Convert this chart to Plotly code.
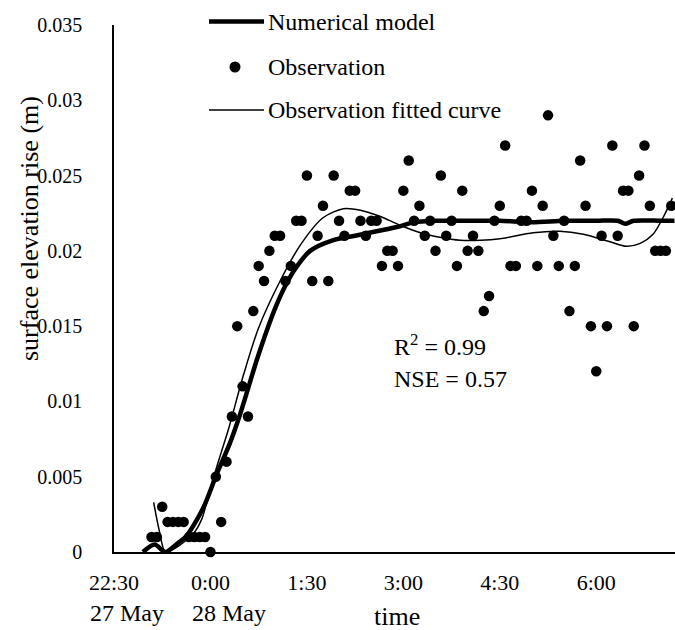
import plotly.graph_objects as go

# ---- observations, sampled every 5 minutes (clock time, metres) ----
obs_time = [
    "23:05", "23:10", "23:15", "23:20", "23:25", "23:30", "23:35", "23:40", "23:45", "23:50", "23:55",
    "0:00", "0:05", "0:10", "0:15", "0:20", "0:25", "0:30", "0:35", "0:40", "0:45", "0:50", "0:55",
    "1:00", "1:05", "1:10", "1:15", "1:20", "1:25", "1:30", "1:35", "1:40", "1:45", "1:50", "1:55",
    "2:00", "2:05", "2:10", "2:15", "2:20", "2:25", "2:30", "2:35", "2:40", "2:45", "2:50", "2:55",
    "3:00", "3:05", "3:10", "3:15", "3:20", "3:25", "3:30", "3:35", "3:40", "3:45", "3:50", "3:55",
    "4:00", "4:05", "4:10", "4:15", "4:20", "4:25", "4:30", "4:35", "4:40", "4:45", "4:50", "4:55",
    "5:00", "5:05", "5:10", "5:15", "5:20", "5:25", "5:30", "5:35", "5:40", "5:45", "5:50", "5:55",
    "6:00", "6:05", "6:10", "6:15", "6:20", "6:25", "6:30", "6:35", "6:40", "6:45", "6:50", "6:55",
    "7:00", "7:05", "7:10",
]
obs_value = [
    0.001, 0.001, 0.003, 0.002, 0.002, 0.002, 0.002, 0.001, 0.001, 0.001, 0.001,
    0.000, 0.005, 0.002, 0.006, 0.009, 0.015, 0.011, 0.009, 0.016, 0.019, 0.018, 0.020,
    0.021, 0.021, 0.018, 0.019, 0.022, 0.022, 0.025, 0.018, 0.021, 0.023, 0.018, 0.025,
    0.022, 0.021, 0.024, 0.024, 0.022, 0.021, 0.022, 0.022, 0.019, 0.020, 0.020, 0.019,
    0.024, 0.026, 0.022, 0.023, 0.021, 0.022, 0.020, 0.025, 0.021, 0.022, 0.019, 0.024,
    0.020, 0.021, 0.020, 0.016, 0.017, 0.022, 0.023, 0.027, 0.019, 0.019, 0.022, 0.022,
    0.024, 0.019, 0.023, 0.029, 0.021, 0.019, 0.022, 0.016, 0.019, 0.026, 0.023, 0.015,
    0.012, 0.021, 0.015, 0.027, 0.021, 0.024, 0.024, 0.015, 0.025, 0.027, 0.023, 0.020,
    0.020, 0.020, 0.023,
]

# ---- numerical model ----
model_time = [
    "22:57", "23:08", "23:18", "23:28", "23:38", "23:47", "23:55", "0:06", "0:18", "0:27",
    "0:34", "0:43", "0:52", "1:01", "1:10", "1:19", "1:33", "1:54", "2:15", "2:35",
    "2:55", "3:10", "3:30", "4:00", "4:30", "5:00", "5:30", "6:00", "6:20", "6:27",
    "6:35", "7:00", "7:13",
]
model_value = [
    0.0000, 0.0005, 0.0000, 0.0005, 0.0011, 0.0021, 0.0032, 0.0052, 0.0072, 0.0090,
    0.0106, 0.0127, 0.0146, 0.0163, 0.0177, 0.0188, 0.0200, 0.0207, 0.0210, 0.0213,
    0.0216, 0.0219, 0.0220, 0.0220, 0.0220, 0.0219, 0.0220, 0.0220, 0.0220, 0.0218,
    0.0220, 0.0220, 0.0220,
]

# ---- curve fitted to the observations ----
fit_time = [
    "23:07", "23:12", "23:18", "23:28", "23:36", "23:45", "23:52", "0:01", "0:10", "0:17",
    "0:31", "0:45", "1:05", "1:24", "1:45", "2:04", "2:20", "2:38", "2:57", "3:16",
    "3:34", "3:53", "4:12", "4:30", "5:01", "5:26", "5:48", "6:13", "6:28", "6:41",
    "6:53", "7:03", "7:11",
]
fit_value = [
    0.0033, 0.0015, 0.0000, 0.0003, 0.0007, 0.0013, 0.0022, 0.0045, 0.0066, 0.0082,
    0.0118, 0.0149, 0.0180, 0.0204, 0.0222, 0.0228, 0.0227, 0.0223, 0.0217, 0.0212,
    0.0209, 0.0207, 0.0207, 0.0208, 0.0212, 0.0213, 0.0211, 0.0206, 0.0203, 0.0205,
    0.0211, 0.0223, 0.0235,
]

# axis ticks
tick_clock = ["22:30", "0:00", "1:30", "3:00", "4:30", "6:00"]
y_ticks = [0, 0.005, 0.01, 0.015, 0.02, 0.025, 0.03, 0.035]
y_tick_text = ["0", "0.005", "0.01", "0.015", "0.02", "0.025", "0.03", "0.035"]

START = 22.5  # 22:30 on 27 May


def hours(clock):
    """Hours elapsed since 22:30 on 27 May."""
    h, m = (int(p) for p in clock.split(":"))
    t = h + m / 60.0
    if t < 12:
        t += 24
    return t - START


FONT = "Liberation Serif"

fig = go.Figure()
fig.add_trace(go.Scatter(
    x=[hours(t) for t in obs_time], y=obs_value, mode="markers",
    marker=dict(color="black", size=10.5), cliponaxis=False, name="Observation",
))
fig.add_trace(go.Scatter(
    x=[hours(t) for t in model_time], y=model_value, mode="lines",
    line=dict(color="black", width=4.5, shape="spline", smoothing=0.8),
    name="Numerical model",
))
fig.add_trace(go.Scatter(
    x=[hours(t) for t in fit_time], y=fit_value, mode="lines",
    line=dict(color="black", width=1.5, shape="spline", smoothing=0.8),
    name="Observation fitted curve",
))

# plot area: x 114..675 px, y 25..552 px
PL, PR, PT, PB = 114, 675, 25, 552
W, H = PR - PL, PB - PT


def px(x):
    return (x - PL) / W


def py(y):
    return (PB - y) / H


# legend drawn in paper space
fig.add_shape(type="line", xref="paper", yref="paper",
              x0=px(209), x1=px(264), y0=py(21.5), y1=py(21.5),
              line=dict(color="black", width=4.5))
fig.add_shape(type="circle", xref="paper", yref="paper",
              x0=px(229.5), x1=px(240.5), y0=py(61.5), y1=py(72.5),
              fillcolor="black", line=dict(color="black", width=0))
fig.add_shape(type="line", xref="paper", yref="paper",
              x0=px(209), x1=px(264), y0=py(110), y1=py(110),
              line=dict(color="black", width=1.5))
for label, yy in [("Numerical model", 21.5), ("Observation", 67), ("Observation fitted curve", 110)]:
    fig.add_annotation(xref="paper", yref="paper", x=px(266), y=py(yy),
                       xanchor="left", yanchor="middle", showarrow=False,
                       text=label, font=dict(family=FONT, size=24, color="black"))

# goodness-of-fit statistics
fig.add_annotation(xref="paper", yref="paper", x=px(392), y=py(345),
                   xanchor="left", yanchor="middle", showarrow=False,
                   text="R<sup>2</sup> = 0.99", font=dict(family=FONT, size=24, color="black"))
fig.add_annotation(xref="paper", yref="paper", x=px(392), y=py(379),
                   xanchor="left", yanchor="middle", showarrow=False,
                   text="NSE = 0.57", font=dict(family=FONT, size=24, color="black"))

# dates under the first two clock labels
fig.add_annotation(xref="paper", yref="paper", x=px(88), y=py(613),
                   xanchor="left", yanchor="middle", showarrow=False,
                   text="27 May", font=dict(family=FONT, size=24, color="black"))
fig.add_annotation(xref="paper", yref="paper", x=px(190), y=py(613),
                   xanchor="left", yanchor="middle", showarrow=False,
                   text="28 May", font=dict(family=FONT, size=24, color="black"))

# axis titles
fig.add_annotation(xref="paper", yref="paper", x=px(397), y=py(616),
                   xanchor="center", yanchor="middle", showarrow=False,
                   text="time", font=dict(family=FONT, size=26, color="black"))
fig.add_annotation(xref="paper", yref="paper", x=px(29), y=py(229),
                   xanchor="center", yanchor="middle", showarrow=False, textangle=-90,
                   text="surface elevation rise (m)", font=dict(family=FONT, size=26, color="black"))

fig.update_layout(
    width=675, height=630,
    margin=dict(l=PL, r=675 - PR, t=PT, b=630 - PB, pad=0),
    paper_bgcolor="white", plot_bgcolor="white",
    showlegend=False,
    font=dict(family=FONT, color="black"),
    xaxis=dict(tickfont=dict(family=FONT, size=22, color="black")),
    yaxis=dict(tickfont=dict(family=FONT, size=20, color="black")),
)
fig.update_xaxes(
    range=[0, (PR - PL) / 64.3],
    tickmode="array",
    tickvals=[hours(t) for t in tick_clock], ticktext=tick_clock,
    showgrid=False, zeroline=False,
    ticks="outside", ticklen=10, tickcolor="rgba(0,0,0,0)",
    showline=True, linecolor="black", linewidth=1.5,
)
fig.update_yaxes(
    range=[0, 0.035], tickmode="array", tickvals=y_ticks, ticktext=y_tick_text,
    showgrid=False, zeroline=False,
    ticks="outside", ticklen=26, tickcolor="rgba(0,0,0,0)",
    showline=True, linecolor="black", linewidth=1.5,
)

fig.write_html("out.html")
